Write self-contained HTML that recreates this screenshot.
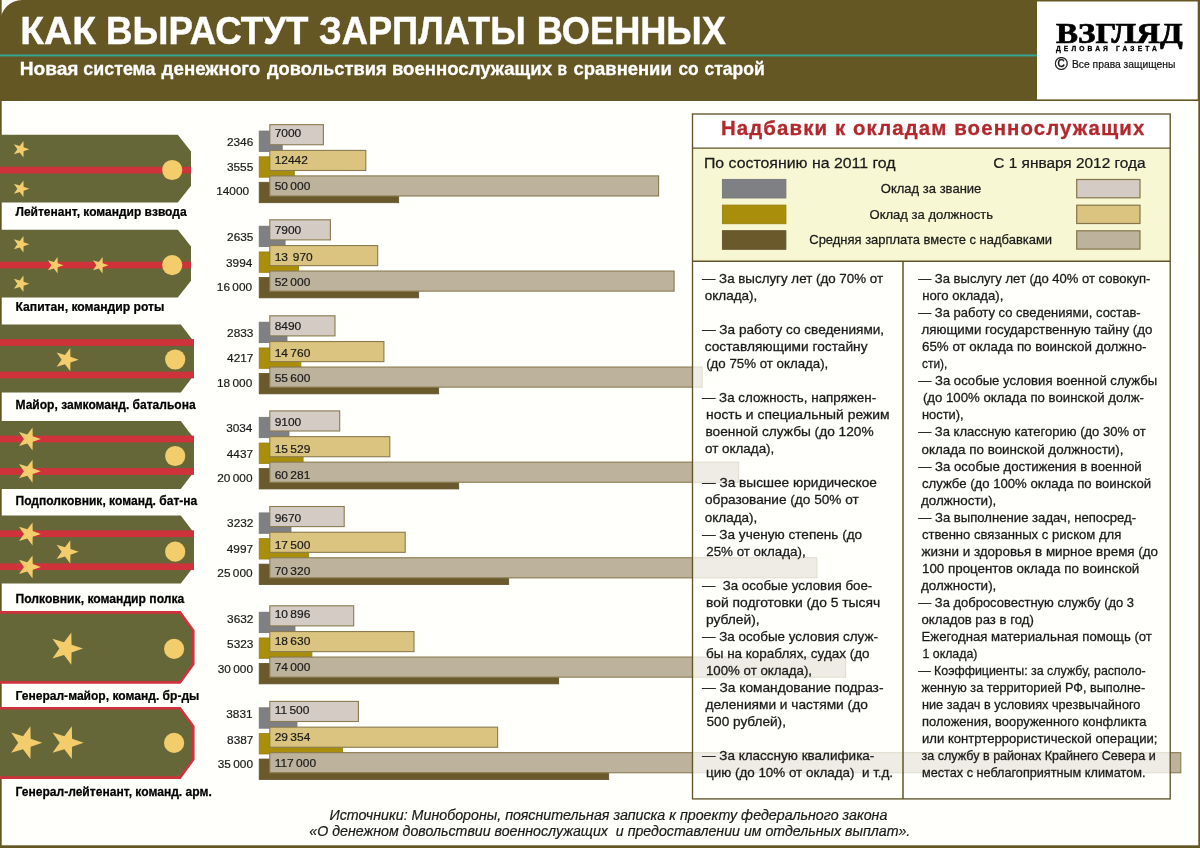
<!DOCTYPE html>
<html lang="ru"><head><meta charset="utf-8"><title>Как вырастут зарплаты военных</title>
<style>

html,body{margin:0;padding:0;}
body{width:1200px;height:848px;overflow:hidden;background:#fffffc;}
#page{position:relative;width:1200px;height:848px;overflow:hidden;background:#fffffc;}
svg{position:absolute;left:0;top:0;display:block;}
.tx text{white-space:pre;}
</style></head><body>
<div id="page">
<svg width="1200" height="848" viewBox="0 0 1200 848">
<rect x="0" y="0" width="1.7" height="848" fill="#645724"/>
<rect x="1198.3" y="0" width="1.7" height="848" fill="#645724"/>
<rect x="0" y="845.3" width="1200" height="2.7" fill="#645724"/>
<path d="M0 100.9 L0 23 A22 23 0 0 1 22 0 L1200 0 L1200 100.9 Z" fill="#645724"/>
<rect x="0" y="54.5" width="1037" height="1.9" fill="#33a698"/>
<rect x="1037" y="1.5" width="160.7" height="97.9" fill="#ffffff"/>
<polygon points="-6.00,134.70 177.80,134.70 191.00,151.50 191.00,185.70 177.80,202.50 -6.00,202.50" fill="#666739"/>
<rect x="0" y="166.75" width="191" height="6.7" fill="#cf323b"/>
<circle cx="172.2" cy="170.00" r="10.1" fill="#f3cc6c"/>
<polygon points="29.40,149.20 23.58,151.22 23.46,157.38 19.74,152.47 13.84,154.25 17.36,149.20 13.84,144.15 19.74,145.93 23.46,141.02 23.58,147.18" fill="#f3cc6c"/>
<polygon points="29.40,188.80 23.58,190.82 23.46,196.98 19.74,192.07 13.84,193.85 17.36,188.80 13.84,183.75 19.74,185.53 23.46,180.62 23.58,186.78" fill="#f3cc6c"/>
<polygon points="-6.00,229.80 177.80,229.80 191.00,246.60 191.00,280.80 177.80,297.60 -6.00,297.60" fill="#666739"/>
<rect x="0" y="261.75" width="191" height="6.7" fill="#cf323b"/>
<circle cx="172.2" cy="265.10" r="10.1" fill="#f3cc6c"/>
<polygon points="29.40,244.20 23.58,246.22 23.46,252.38 19.74,247.47 13.84,249.25 17.36,244.20 13.84,239.15 19.74,240.93 23.46,236.02 23.58,242.18" fill="#f3cc6c"/>
<polygon points="29.40,283.70 23.58,285.72 23.46,291.88 19.74,286.97 13.84,288.75 17.36,283.70 13.84,278.65 19.74,280.43 23.46,275.52 23.58,281.68" fill="#f3cc6c"/>
<polygon points="63.50,265.30 57.68,267.32 57.56,273.48 53.84,268.57 47.94,270.35 51.46,265.30 47.94,260.25 53.84,262.03 57.56,257.12 57.68,263.28" fill="#f3cc6c"/>
<polygon points="108.50,265.30 102.68,267.32 102.56,273.48 98.84,268.57 92.94,270.35 96.46,265.30 92.94,260.25 98.84,262.03 102.56,257.12 102.68,263.28" fill="#f3cc6c"/>
<polygon points="-6.00,324.40 180.80,324.40 194.00,341.70 194.00,375.10 180.80,392.40 -6.00,392.40" fill="#666739"/>
<rect x="0" y="339.15" width="194" height="6.7" fill="#cf323b"/>
<rect x="0" y="371.65" width="194" height="6.7" fill="#cf323b"/>
<circle cx="175.2" cy="359.50" r="10.1" fill="#f3cc6c"/>
<polygon points="78.70,359.70 70.45,362.57 70.27,371.30 64.99,364.34 56.63,366.87 61.62,359.70 56.63,352.53 64.99,355.06 70.27,348.10 70.45,356.83" fill="#f3cc6c"/>
<polygon points="-6.00,421.10 180.80,421.10 194.00,438.40 194.00,471.70 180.80,489.00 -6.00,489.00" fill="#666739"/>
<rect x="0" y="435.65" width="194" height="6.7" fill="#cf323b"/>
<rect x="0" y="468.15" width="194" height="6.7" fill="#cf323b"/>
<circle cx="175.2" cy="456.00" r="10.1" fill="#f3cc6c"/>
<polygon points="40.90,439.00 32.72,441.84 32.54,450.51 27.30,443.60 19.01,446.11 23.96,439.00 19.01,431.89 27.30,434.40 32.54,427.49 32.72,436.16" fill="#f3cc6c"/>
<polygon points="40.90,471.20 32.72,474.04 32.54,482.71 27.30,475.80 19.01,478.31 23.96,471.20 19.01,464.09 27.30,466.60 32.54,459.69 32.72,468.36" fill="#f3cc6c"/>
<polygon points="-6.00,515.60 180.80,515.60 194.00,532.90 194.00,566.20 180.80,583.50 -6.00,583.50" fill="#666739"/>
<rect x="0" y="530.35" width="194" height="6.7" fill="#cf323b"/>
<rect x="0" y="563.35" width="194" height="6.7" fill="#cf323b"/>
<circle cx="175.2" cy="551.70" r="10.1" fill="#f3cc6c"/>
<polygon points="40.90,533.90 32.72,536.74 32.54,545.41 27.30,538.50 19.01,541.01 23.96,533.90 19.01,526.79 27.30,529.30 32.54,522.39 32.72,531.06" fill="#f3cc6c"/>
<polygon points="40.90,566.90 32.72,569.74 32.54,578.41 27.30,571.50 19.01,574.01 23.96,566.90 19.01,559.79 27.30,562.30 32.54,555.39 32.72,564.06" fill="#f3cc6c"/>
<polygon points="78.70,551.80 70.45,554.67 70.27,563.40 64.99,556.44 56.63,558.97 61.62,551.80 56.63,544.63 64.99,547.16 70.27,540.20 70.45,548.93" fill="#f3cc6c"/>
<polygon points="-6.00,612.40 180.00,612.40 193.30,630.60 193.30,664.20 180.00,682.40 -6.00,682.40" fill="#666739" stroke="#cf323b" stroke-width="2.6" stroke-linejoin="miter"/>
<circle cx="174.1" cy="648.80" r="10.1" fill="#f3cc6c"/>
<polygon points="83.00,648.60 71.57,652.57 71.32,664.67 64.01,655.03 52.43,658.53 59.34,648.60 52.43,638.67 64.01,642.17 71.32,632.53 71.57,644.63" fill="#f3cc6c"/>
<polygon points="-6.00,708.20 180.00,708.20 193.30,726.40 193.30,759.40 180.00,777.60 -6.00,777.60" fill="#666739" stroke="#cf323b" stroke-width="2.6" stroke-linejoin="miter"/>
<circle cx="174.1" cy="742.90" r="10.1" fill="#f3cc6c"/>
<polygon points="42.30,742.70 30.67,746.74 30.42,759.06 22.97,749.24 11.18,752.81 18.22,742.70 11.18,732.59 22.97,736.16 30.42,726.34 30.67,738.66" fill="#f3cc6c"/>
<polygon points="83.70,742.70 72.07,746.74 71.82,759.06 64.37,749.24 52.58,752.81 59.62,742.70 52.58,732.59 64.37,736.16 71.82,726.34 72.07,738.66" fill="#f3cc6c"/>
<rect x="259.2" y="131.05" width="23.0" height="20.4" fill="#7f8084" stroke="#75767a" stroke-width="0.8"/>
<rect x="259.2" y="156.80" width="35.1" height="20.4" fill="#a98e0b" stroke="#96800f" stroke-width="0.8"/>
<rect x="259.2" y="182.30" width="139.5" height="20.4" fill="#6a5a2b" stroke="#62532a" stroke-width="0.8"/>
<rect x="269.8" y="124.65" width="53.6" height="20.1" fill="#d4cbc4" stroke="#8a7b50" stroke-width="1.1"/>
<rect x="269.8" y="150.40" width="96.0" height="20.1" fill="#dbc47f" stroke="#8a7b50" stroke-width="1.1"/>
<rect x="269.8" y="175.90" width="388.8" height="20.1" fill="#bdb29b" stroke="#8a7b50" stroke-width="1.1"/>
<rect x="259.2" y="226.20" width="25.9" height="20.4" fill="#7f8084" stroke="#75767a" stroke-width="0.8"/>
<rect x="259.2" y="251.95" width="39.4" height="20.4" fill="#a98e0b" stroke="#96800f" stroke-width="0.8"/>
<rect x="259.2" y="277.45" width="159.5" height="20.4" fill="#6a5a2b" stroke="#62532a" stroke-width="0.8"/>
<rect x="269.8" y="219.80" width="60.6" height="20.1" fill="#d4cbc4" stroke="#8a7b50" stroke-width="1.1"/>
<rect x="269.8" y="245.55" width="107.9" height="20.1" fill="#dbc47f" stroke="#8a7b50" stroke-width="1.1"/>
<rect x="269.8" y="271.05" width="404.3" height="20.1" fill="#bdb29b" stroke="#8a7b50" stroke-width="1.1"/>
<rect x="259.2" y="322.20" width="27.8" height="20.4" fill="#7f8084" stroke="#75767a" stroke-width="0.8"/>
<rect x="259.2" y="347.95" width="41.7" height="20.4" fill="#a98e0b" stroke="#96800f" stroke-width="0.8"/>
<rect x="259.2" y="373.45" width="179.5" height="20.4" fill="#6a5a2b" stroke="#62532a" stroke-width="0.8"/>
<rect x="269.8" y="315.80" width="65.2" height="20.1" fill="#d4cbc4" stroke="#8a7b50" stroke-width="1.1"/>
<rect x="269.8" y="341.55" width="114.1" height="20.1" fill="#dbc47f" stroke="#8a7b50" stroke-width="1.1"/>
<rect x="269.8" y="367.05" width="432.4" height="20.1" fill="#bdb29b" stroke="#8a7b50" stroke-width="1.1"/>
<rect x="259.2" y="417.30" width="29.8" height="20.4" fill="#7f8084" stroke="#75767a" stroke-width="0.8"/>
<rect x="259.2" y="443.05" width="43.9" height="20.4" fill="#a98e0b" stroke="#96800f" stroke-width="0.8"/>
<rect x="259.2" y="468.55" width="199.5" height="20.4" fill="#6a5a2b" stroke="#62532a" stroke-width="0.8"/>
<rect x="269.8" y="410.90" width="69.9" height="20.1" fill="#d4cbc4" stroke="#8a7b50" stroke-width="1.1"/>
<rect x="269.8" y="436.65" width="120.0" height="20.1" fill="#dbc47f" stroke="#8a7b50" stroke-width="1.1"/>
<rect x="269.8" y="462.15" width="468.9" height="20.1" fill="#bdb29b" stroke="#8a7b50" stroke-width="1.1"/>
<rect x="259.2" y="512.90" width="31.8" height="20.4" fill="#7f8084" stroke="#75767a" stroke-width="0.8"/>
<rect x="259.2" y="538.65" width="49.5" height="20.4" fill="#a98e0b" stroke="#96800f" stroke-width="0.8"/>
<rect x="259.2" y="564.15" width="249.5" height="20.4" fill="#6a5a2b" stroke="#62532a" stroke-width="0.8"/>
<rect x="269.8" y="506.50" width="74.4" height="20.1" fill="#d4cbc4" stroke="#8a7b50" stroke-width="1.1"/>
<rect x="269.8" y="532.25" width="135.4" height="20.1" fill="#dbc47f" stroke="#8a7b50" stroke-width="1.1"/>
<rect x="269.8" y="557.75" width="547.1" height="20.1" fill="#bdb29b" stroke="#8a7b50" stroke-width="1.1"/>
<rect x="259.2" y="612.20" width="35.8" height="20.4" fill="#7f8084" stroke="#75767a" stroke-width="0.8"/>
<rect x="259.2" y="637.95" width="52.7" height="20.4" fill="#a98e0b" stroke="#96800f" stroke-width="0.8"/>
<rect x="259.2" y="663.45" width="299.5" height="20.4" fill="#6a5a2b" stroke="#62532a" stroke-width="0.8"/>
<rect x="269.8" y="605.80" width="83.9" height="20.1" fill="#d4cbc4" stroke="#8a7b50" stroke-width="1.1"/>
<rect x="269.8" y="631.55" width="144.2" height="20.1" fill="#dbc47f" stroke="#8a7b50" stroke-width="1.1"/>
<rect x="269.8" y="657.05" width="575.8" height="20.1" fill="#bdb29b" stroke="#8a7b50" stroke-width="1.1"/>
<rect x="259.2" y="707.80" width="37.8" height="20.4" fill="#7f8084" stroke="#75767a" stroke-width="0.8"/>
<rect x="259.2" y="733.55" width="83.4" height="20.4" fill="#a98e0b" stroke="#96800f" stroke-width="0.8"/>
<rect x="259.2" y="759.05" width="349.5" height="20.4" fill="#6a5a2b" stroke="#62532a" stroke-width="0.8"/>
<rect x="269.8" y="701.40" width="88.6" height="20.1" fill="#d4cbc4" stroke="#8a7b50" stroke-width="1.1"/>
<rect x="269.8" y="727.15" width="227.8" height="20.1" fill="#dbc47f" stroke="#8a7b50" stroke-width="1.1"/>
<rect x="269.8" y="752.65" width="911.0" height="20.1" fill="#bdb29b" stroke="#8a7b50" stroke-width="1.1"/>
<rect x="692.5" y="114.0" width="477.70000000000005" height="34.19999999999999" fill="#ffffff"/>
<rect x="692.5" y="148.2" width="477.70000000000005" height="113.10000000000002" fill="#f7f7d3"/>
<rect x="692.5" y="261.3" width="477.70000000000005" height="537.5999999999999" fill="#fffffc" fill-opacity="0.75"/>
<rect x="692.5" y="114.0" width="477.70000000000005" height="684.9" fill="none" stroke="#5f5529" stroke-width="1.35"/>
<line x1="692.5" y1="148.2" x2="1170.2" y2="148.2" stroke="#5f5529" stroke-width="1.3"/>
<line x1="692.5" y1="261.3" x2="1170.2" y2="261.3" stroke="#5f5529" stroke-width="1.4"/>
<line x1="903.0" y1="261.3" x2="903.0" y2="798.9" stroke="#5f5529" stroke-width="1.5"/>
<rect x="722.4" y="179.4" width="63.5" height="18.6" fill="#7f8084" stroke="#75767a" stroke-width="0.9"/>
<rect x="1076.7" y="179.5" width="63.3" height="18.3" fill="#d4cbc4" stroke="#85764a" stroke-width="1.2"/>
<rect x="722.4" y="205.1" width="63.5" height="18.6" fill="#a98e0b" stroke="#96800f" stroke-width="0.9"/>
<rect x="1076.7" y="205.2" width="63.3" height="18.3" fill="#dbc47f" stroke="#85764a" stroke-width="1.2"/>
<rect x="722.4" y="230.70000000000002" width="63.5" height="18.6" fill="#6a5a2b" stroke="#62532a" stroke-width="0.9"/>
<rect x="1076.7" y="230.8" width="63.3" height="18.3" fill="#bdb29b" stroke="#85764a" stroke-width="1.2"/>
<g class="tx" xml:space="preserve" font-family="'Liberation Sans', sans-serif" fill="#1a1a1a">
<text font-size="11.6" stroke="#1a1a1a" stroke-width="0.2" style="word-spacing:-0.9px;" transform="translate(274.70 137.35) scale(1.0300 1)">7000</text>
<text font-size="11.5" stroke="#1a1a1a" stroke-width="0.2" style="word-spacing:-0.9px;" transform="translate(226.96 145.95) scale(1.0300 1)">2346</text>
<text font-size="11.6" stroke="#1a1a1a" stroke-width="0.2" style="word-spacing:-0.9px;" transform="translate(274.70 164.05) scale(1.0300 1)">12442</text>
<text font-size="11.5" stroke="#1a1a1a" stroke-width="0.2" style="word-spacing:-0.9px;" transform="translate(226.96 170.95) scale(1.0300 1)">3555</text>
<text font-size="11.6" stroke="#1a1a1a" stroke-width="0.2" style="word-spacing:-0.9px;" transform="translate(274.70 190.05) scale(1.0300 1)">50 000</text>
<text font-size="11.5" stroke="#1a1a1a" stroke-width="0.2" style="word-spacing:-0.9px;" transform="translate(216.17 194.95) scale(1.0300 1)">14000</text>
<text font-size="11.6" stroke="#1a1a1a" stroke-width="0.2" style="word-spacing:-0.9px;" transform="translate(274.70 233.60) scale(1.0300 1)">7900</text>
<text font-size="11.5" stroke="#1a1a1a" stroke-width="0.2" style="word-spacing:-0.9px;" transform="translate(227.06 240.70) scale(1.0300 1)">2635</text>
<text font-size="11.6" stroke="#1a1a1a" stroke-width="0.2" style="word-spacing:-0.9px;" transform="translate(274.70 260.70) scale(1.0300 1)">13  970</text>
<text font-size="11.5" stroke="#1a1a1a" stroke-width="0.2" style="word-spacing:-0.9px;" transform="translate(226.03 266.70) scale(1.0300 1)">3994</text>
<text font-size="11.6" stroke="#1a1a1a" stroke-width="0.2" style="word-spacing:-0.9px;" transform="translate(274.70 285.80) scale(1.0300 1)">52 000</text>
<text font-size="11.5" stroke="#1a1a1a" stroke-width="0.2" style="word-spacing:-0.9px;" transform="translate(216.81 290.80) scale(1.0300 1)">16 000</text>
<text font-size="11.6" stroke="#1a1a1a" stroke-width="0.2" style="word-spacing:-0.9px;" transform="translate(274.70 329.80) scale(1.0300 1)">8490</text>
<text font-size="11.5" stroke="#1a1a1a" stroke-width="0.2" style="word-spacing:-0.9px;" transform="translate(227.06 336.50) scale(1.0300 1)">2833</text>
<text font-size="11.6" stroke="#1a1a1a" stroke-width="0.2" style="word-spacing:-0.9px;" transform="translate(274.70 356.70) scale(1.0300 1)">14 760</text>
<text font-size="11.5" stroke="#1a1a1a" stroke-width="0.2" style="word-spacing:-0.9px;" transform="translate(227.06 362.20) scale(1.0300 1)">4217</text>
<text font-size="11.6" stroke="#1a1a1a" stroke-width="0.2" style="word-spacing:-0.9px;" transform="translate(274.70 382.10) scale(1.0300 1)">55 600</text>
<text font-size="11.5" stroke="#1a1a1a" stroke-width="0.2" style="word-spacing:-0.9px;" transform="translate(217.01 386.60) scale(1.0300 1)">18 000</text>
<text font-size="11.6" stroke="#1a1a1a" stroke-width="0.2" style="word-spacing:-0.9px;" transform="translate(274.70 426.00) scale(1.0300 1)">9100</text>
<text font-size="11.5" stroke="#1a1a1a" stroke-width="0.2" style="word-spacing:-0.9px;" transform="translate(226.13 431.80) scale(1.0300 1)">3034</text>
<text font-size="11.6" stroke="#1a1a1a" stroke-width="0.2" style="word-spacing:-0.9px;" transform="translate(274.70 453.00) scale(1.0300 1)">15 529</text>
<text font-size="11.5" stroke="#1a1a1a" stroke-width="0.2" style="word-spacing:-0.9px;" transform="translate(226.76 457.80) scale(1.0300 1)">4437</text>
<text font-size="11.6" stroke="#1a1a1a" stroke-width="0.2" style="word-spacing:-0.9px;" transform="translate(274.70 478.50) scale(1.0300 1)">60 281</text>
<text font-size="11.5" stroke="#1a1a1a" stroke-width="0.2" style="word-spacing:-0.9px;" transform="translate(217.21 481.90) scale(1.0300 1)">20 000</text>
<text font-size="11.6" stroke="#1a1a1a" stroke-width="0.2" style="word-spacing:-0.9px;" transform="translate(274.70 521.90) scale(1.0300 1)">9670</text>
<text font-size="11.5" stroke="#1a1a1a" stroke-width="0.2" style="word-spacing:-0.9px;" transform="translate(227.06 527.20) scale(1.0300 1)">3232</text>
<text font-size="11.6" stroke="#1a1a1a" stroke-width="0.2" style="word-spacing:-0.9px;" transform="translate(274.70 548.90) scale(1.0300 1)">17 500</text>
<text font-size="11.5" stroke="#1a1a1a" stroke-width="0.2" style="word-spacing:-0.9px;" transform="translate(226.76 553.00) scale(1.0300 1)">4997</text>
<text font-size="11.6" stroke="#1a1a1a" stroke-width="0.2" style="word-spacing:-0.9px;" transform="translate(274.70 574.60) scale(1.0300 1)">70 320</text>
<text font-size="11.5" stroke="#1a1a1a" stroke-width="0.2" style="word-spacing:-0.9px;" transform="translate(217.31 577.40) scale(1.0300 1)">25 000</text>
<text font-size="11.6" stroke="#1a1a1a" stroke-width="0.2" style="word-spacing:-0.9px;" transform="translate(274.70 618.00) scale(1.0300 1)">10 896</text>
<text font-size="11.5" stroke="#1a1a1a" stroke-width="0.2" style="word-spacing:-0.9px;" transform="translate(227.06 622.80) scale(1.0300 1)">3632</text>
<text font-size="11.6" stroke="#1a1a1a" stroke-width="0.2" style="word-spacing:-0.9px;" transform="translate(274.70 644.80) scale(1.0300 1)">18 630</text>
<text font-size="11.5" stroke="#1a1a1a" stroke-width="0.2" style="word-spacing:-0.9px;" transform="translate(227.06 648.20) scale(1.0300 1)">5323</text>
<text font-size="11.6" stroke="#1a1a1a" stroke-width="0.2" style="word-spacing:-0.9px;" transform="translate(274.70 670.80) scale(1.0300 1)">74 000</text>
<text font-size="11.5" stroke="#1a1a1a" stroke-width="0.2" style="word-spacing:-0.9px;" transform="translate(217.71 672.60) scale(1.0300 1)">30 000</text>
<text font-size="11.6" stroke="#1a1a1a" stroke-width="0.2" style="word-spacing:-0.9px;" transform="translate(274.70 714.30) scale(1.0300 1)">11 500</text>
<text font-size="11.5" stroke="#1a1a1a" stroke-width="0.2" style="word-spacing:-0.9px;" transform="translate(226.26 718.40) scale(1.0300 1)">3831</text>
<text font-size="11.6" stroke="#1a1a1a" stroke-width="0.2" style="word-spacing:-0.9px;" transform="translate(274.70 741.20) scale(1.0300 1)">29 354</text>
<text font-size="11.5" stroke="#1a1a1a" stroke-width="0.2" style="word-spacing:-0.9px;" transform="translate(227.06 743.80) scale(1.0300 1)">8387</text>
<text font-size="11.6" stroke="#1a1a1a" stroke-width="0.2" style="word-spacing:-0.9px;" transform="translate(274.70 766.70) scale(1.0300 1)">117 000</text>
<text font-size="11.5" stroke="#1a1a1a" stroke-width="0.2" style="word-spacing:-0.9px;" transform="translate(217.71 767.70) scale(1.0300 1)">35 000</text>
<text font-size="39.1" font-weight="bold" fill="#ffffff" stroke="#ffffff" stroke-width="0.45" transform="translate(20.31 43.50) scale(0.9950 1)">КАК</text>
<text font-size="39.1" font-weight="bold" fill="#ffffff" stroke="#ffffff" stroke-width="0.45" transform="translate(106.12 43.50) scale(0.9379 1)">ВЫРАСТУТ</text>
<text font-size="39.1" font-weight="bold" fill="#ffffff" stroke="#ffffff" stroke-width="0.45" transform="translate(319.00 43.50) scale(0.9278 1)">ЗАРПЛАТЫ</text>
<text font-size="39.1" font-weight="bold" fill="#ffffff" stroke="#ffffff" stroke-width="0.45" transform="translate(536.65 43.50) scale(0.9254 1)">ВОЕННЫХ</text>
<text font-size="17.5" font-weight="bold" fill="#ffffff" stroke="#ffffff" stroke-width="0.3" transform="translate(19.71 75.20) scale(1.0933 1)">Новая</text>
<text font-size="17.5" font-weight="bold" fill="#ffffff" stroke="#ffffff" stroke-width="0.3" transform="translate(83.30 75.20) scale(1.0210 1)">система</text>
<text font-size="17.5" font-weight="bold" fill="#ffffff" stroke="#ffffff" stroke-width="0.3" transform="translate(161.60 75.20) scale(1.0694 1)">денежного</text>
<text font-size="17.5" font-weight="bold" fill="#ffffff" stroke="#ffffff" stroke-width="0.3" transform="translate(267.00 75.20) scale(1.0461 1)">довольствия</text>
<text font-size="17.5" font-weight="bold" fill="#ffffff" stroke="#ffffff" stroke-width="0.3" transform="translate(391.94 75.20) scale(1.0627 1)">военнослужащих</text>
<text font-size="17.5" font-weight="bold" fill="#ffffff" stroke="#ffffff" stroke-width="0.3" transform="translate(557.51 75.20) scale(0.8900 1)">в</text>
<text font-size="17.5" font-weight="bold" fill="#ffffff" stroke="#ffffff" stroke-width="0.3" transform="translate(573.60 75.20) scale(1.0525 1)">сравнении</text>
<text font-size="17.5" font-weight="bold" fill="#ffffff" stroke="#ffffff" stroke-width="0.3" transform="translate(678.40 75.20) scale(0.9933 1)">со</text>
<text font-size="17.5" font-weight="bold" fill="#ffffff" stroke="#ffffff" stroke-width="0.3" transform="translate(704.40 75.20) scale(1.0031 1)">старой</text>
<text font-size="29.5" font-weight="bold" fill="#000000" font-family="'Liberation Serif', serif" stroke="#000000" stroke-width="0.7" transform="translate(1056.00 42.50) scale(1.1210 1)">ВЗГЛЯД</text>
<text font-size="6.7" font-weight="bold" fill="#000000" stroke="#000000" stroke-width="0.3" style="letter-spacing:3.106px;" x="1056.00" y="51.40">ДЕЛОВАЯ ГАЗЕТА</text>
<text font-size="17.8" fill="#111111" stroke="#111111" stroke-width="0.35" x="1054.80" y="70.10">©</text>
<text font-size="10.4" fill="#111111" stroke="#111111" stroke-width="0.2" transform="translate(1072.00 67.80) scale(0.9914 1)">Все права защищены</text>
<text font-size="12.7" font-weight="bold" fill="#000000" stroke="#000000" stroke-width="0.25" transform="translate(15.50 215.60) scale(0.9454 1)">Лейтенант, командир взвода</text>
<text font-size="12.7" font-weight="bold" fill="#000000" stroke="#000000" stroke-width="0.25" transform="translate(15.50 311.40) scale(0.9571 1)">Капитан, командир роты</text>
<text font-size="12.7" font-weight="bold" fill="#000000" stroke="#000000" stroke-width="0.25" transform="translate(15.50 408.90) scale(0.9484 1)">Майор, замкоманд. батальона</text>
<text font-size="12.7" font-weight="bold" fill="#000000" stroke="#000000" stroke-width="0.25" transform="translate(15.50 505.30) scale(0.9500 1)">Подполковник, команд. бат-на</text>
<text font-size="12.7" font-weight="bold" fill="#000000" stroke="#000000" stroke-width="0.25" transform="translate(15.50 602.70) scale(0.9564 1)">Полковник, командир полка</text>
<text font-size="12.7" font-weight="bold" fill="#000000" stroke="#000000" stroke-width="0.25" transform="translate(15.50 699.50) scale(0.9496 1)">Генерал-майор, команд. бр-ды</text>
<text font-size="12.7" font-weight="bold" fill="#000000" stroke="#000000" stroke-width="0.25" transform="translate(15.50 795.60) scale(0.9507 1)">Генерал-лейтенант, команд. арм.</text>
<text font-size="14" font-style="italic" stroke="#1a1a1a" stroke-width="0.2" transform="translate(329.50 819.80) scale(1.0192 1)">Источники: Минобороны, пояснительная записка к проекту федерального закона</text>
<text font-size="14" font-style="italic" stroke="#1a1a1a" stroke-width="0.2" transform="translate(309.30 836.30) scale(1.0147 1)">«О денежном довольствии военнослужащих  и предоставлении им отдельных выплат».</text>
<text font-size="20.4" font-weight="bold" fill="#b3282d" stroke="#b3282d" stroke-width="0.3" style="letter-spacing:1.117px;" x="721.00" y="135.30">Надбавки к окладам военнослужащих</text>
<text font-size="15.3" stroke="#1a1a1a" stroke-width="0.25" transform="translate(703.96 168.40) scale(1.0379 1)">По состоянию на 2011 год</text>
<text font-size="15.3" stroke="#1a1a1a" stroke-width="0.25" transform="translate(993.30 168.20) scale(1.0077 1)">С 1 января 2012 года</text>
<text font-size="12.9" stroke="#1a1a1a" stroke-width="0.25" transform="translate(880.80 193.20) scale(1.0104 1)">Оклад за звание</text>
<text font-size="12.9" stroke="#1a1a1a" stroke-width="0.25" transform="translate(869.50 218.50) scale(1.0110 1)">Оклад за должность</text>
<text font-size="12.9" stroke="#1a1a1a" stroke-width="0.25" transform="translate(809.30 244.30) scale(1.0059 1)">Средняя зарплата вместе с надбавками</text>
<text font-size="13.1" stroke="#1a1a1a" stroke-width="0.28" transform="translate(702.00 282.80) scale(1.0208 1)">— За выслугу лет (до 70% от</text>
<text font-size="13.1" stroke="#1a1a1a" stroke-width="0.28" transform="translate(704.70 299.85) scale(1.0305 1)">оклада),</text>
<text font-size="13.1" stroke="#1a1a1a" stroke-width="0.28" transform="translate(702.00 333.95) scale(1.0384 1)">— За работу со сведениями,</text>
<text font-size="13.1" stroke="#1a1a1a" stroke-width="0.28" transform="translate(704.70 351.00) scale(1.0475 1)">составляющими гостайну</text>
<text font-size="13.1" stroke="#1a1a1a" stroke-width="0.28" transform="translate(706.20 368.05) scale(1.0137 1)">(до 75% от оклада),</text>
<text font-size="13.1" stroke="#1a1a1a" stroke-width="0.28" transform="translate(702.00 402.15) scale(1.0221 1)">— За сложность, напряжен-</text>
<text font-size="13.1" stroke="#1a1a1a" stroke-width="0.28" transform="translate(706.00 419.20) scale(1.0611 1)">ность и специальный режим</text>
<text font-size="13.1" stroke="#1a1a1a" stroke-width="0.28" transform="translate(705.50 436.25) scale(1.0455 1)">военной службы (до 120%</text>
<text font-size="13.1" stroke="#1a1a1a" stroke-width="0.28" transform="translate(705.00 453.30) scale(1.0255 1)">от оклада),</text>
<text font-size="13.1" stroke="#1a1a1a" stroke-width="0.28" transform="translate(702.00 487.40) scale(1.0439 1)">— За высшее юридическое</text>
<text font-size="13.1" stroke="#1a1a1a" stroke-width="0.28" transform="translate(705.00 504.45) scale(1.0423 1)">образование (до 50% от</text>
<text font-size="13.1" stroke="#1a1a1a" stroke-width="0.28" transform="translate(704.70 521.50) scale(1.0305 1)">оклада),</text>
<text font-size="13.1" stroke="#1a1a1a" stroke-width="0.28" transform="translate(702.00 538.55) scale(1.0377 1)">— За ученую степень (до</text>
<text font-size="13.1" stroke="#1a1a1a" stroke-width="0.28" transform="translate(706.20 555.60) scale(1.0203 1)">25% от оклада),</text>
<text font-size="13.1" stroke="#1a1a1a" stroke-width="0.28" transform="translate(702.00 589.70) scale(1.0163 1)">—  За особые условия бое-</text>
<text font-size="13.1" stroke="#1a1a1a" stroke-width="0.28" transform="translate(706.00 606.75) scale(1.0585 1)">вой подготовки (до 5 тысяч</text>
<text font-size="13.1" stroke="#1a1a1a" stroke-width="0.28" transform="translate(706.00 623.80) scale(1.0529 1)">рублей),</text>
<text font-size="13.1" stroke="#1a1a1a" stroke-width="0.28" transform="translate(702.00 640.85) scale(1.0251 1)">— За особые условия служ-</text>
<text font-size="13.1" stroke="#1a1a1a" stroke-width="0.28" transform="translate(706.00 657.90) scale(1.0299 1)">бы на кораблях, судах (до</text>
<text font-size="13.1" stroke="#1a1a1a" stroke-width="0.28" transform="translate(705.99 674.95) scale(1.0124 1)">100% от оклада),</text>
<text font-size="13.1" stroke="#1a1a1a" stroke-width="0.28" transform="translate(702.00 692.00) scale(1.0483 1)">— За командование подраз-</text>
<text font-size="13.1" stroke="#1a1a1a" stroke-width="0.28" transform="translate(705.50 709.05) scale(1.0476 1)">делениями и частями (до</text>
<text font-size="13.1" stroke="#1a1a1a" stroke-width="0.28" transform="translate(706.50 726.10) scale(1.0393 1)">500 рублей),</text>
<text font-size="13.1" stroke="#1a1a1a" stroke-width="0.28" transform="translate(702.00 760.20) scale(1.0309 1)">— За классную квалифика-</text>
<text font-size="13.1" stroke="#1a1a1a" stroke-width="0.28" transform="translate(706.00 777.25) scale(1.0237 1)">цию (до 10% от оклада)  и т.д.</text>
<text font-size="13.1" stroke="#1a1a1a" stroke-width="0.28" transform="translate(918.20 283.00) scale(0.9965 1)">— За выслугу лет (до 40% от совокуп-</text>
<text font-size="13.1" stroke="#1a1a1a" stroke-width="0.28" transform="translate(922.20 300.05) scale(1.0027 1)">ного оклада),</text>
<text font-size="13.1" stroke="#1a1a1a" stroke-width="0.28" transform="translate(918.20 317.10) scale(0.9930 1)">— За работу со сведениями, состав-</text>
<text font-size="13.1" stroke="#1a1a1a" stroke-width="0.28" transform="translate(921.50 334.15) scale(1.0163 1)">ляющими государственную тайну (до</text>
<text font-size="13.1" stroke="#1a1a1a" stroke-width="0.28" transform="translate(922.00 351.20) scale(1.0193 1)">65% от оклада по воинской должно-</text>
<text font-size="13.1" stroke="#1a1a1a" stroke-width="0.28" transform="translate(922.00 368.25) scale(0.9075 1)">сти),</text>
<text font-size="13.1" stroke="#1a1a1a" stroke-width="0.28" transform="translate(918.20 385.30) scale(1.0020 1)">— За особые условия военной службы</text>
<text font-size="13.1" stroke="#1a1a1a" stroke-width="0.28" transform="translate(922.90 402.35) scale(1.0086 1)">(до 100% оклада по воинской долж-</text>
<text font-size="13.1" stroke="#1a1a1a" stroke-width="0.28" transform="translate(922.00 419.40) scale(0.9825 1)">ности),</text>
<text font-size="13.1" stroke="#1a1a1a" stroke-width="0.28" transform="translate(918.20 436.45) scale(0.9960 1)">— За классную категорию (до 30% от</text>
<text font-size="13.1" stroke="#1a1a1a" stroke-width="0.28" transform="translate(921.50 453.50) scale(1.0233 1)">оклада по воинской должности),</text>
<text font-size="13.1" stroke="#1a1a1a" stroke-width="0.28" transform="translate(918.20 470.55) scale(1.0083 1)">— За особые достижения в военной</text>
<text font-size="13.1" stroke="#1a1a1a" stroke-width="0.28" transform="translate(922.00 487.60) scale(1.0031 1)">службе (до 100% оклада по воинской</text>
<text font-size="13.1" stroke="#1a1a1a" stroke-width="0.28" transform="translate(921.00 504.65) scale(1.0266 1)">должности),</text>
<text font-size="13.1" stroke="#1a1a1a" stroke-width="0.28" transform="translate(918.20 521.70) scale(1.0023 1)">— За выполнение задач, непосред-</text>
<text font-size="13.1" stroke="#1a1a1a" stroke-width="0.28" x="922.00" y="538.75">ственно связанных с риском для</text>
<text font-size="13.1" stroke="#1a1a1a" stroke-width="0.28" transform="translate(921.50 555.80) scale(1.0238 1)">жизни и здоровья в мирное время (до</text>
<text font-size="13.1" stroke="#1a1a1a" stroke-width="0.28" transform="translate(921.98 572.85) scale(1.0212 1)">100 процентов оклада по воинской</text>
<text font-size="13.1" stroke="#1a1a1a" stroke-width="0.28" transform="translate(921.00 589.90) scale(1.0266 1)">должности),</text>
<text font-size="13.1" stroke="#1a1a1a" stroke-width="0.28" transform="translate(918.20 606.95) scale(0.9922 1)">— За добросовестную службу (до 3</text>
<text font-size="13.1" stroke="#1a1a1a" stroke-width="0.28" transform="translate(921.50 624.00) scale(1.0056 1)">окладов раз в год)</text>
<text font-size="13.1" stroke="#1a1a1a" stroke-width="0.28" transform="translate(921.59 641.05) scale(1.0057 1)">Ежегодная материальная помощь (от</text>
<text font-size="13.1" stroke="#1a1a1a" stroke-width="0.28" transform="translate(922.56 658.10) scale(0.9399 1)">1 оклада)</text>
<text font-size="13.1" stroke="#1a1a1a" stroke-width="0.28" transform="translate(918.20 675.15) scale(0.9475 1)">— Коэффициенты: за службу, располо-</text>
<text font-size="13.1" stroke="#1a1a1a" stroke-width="0.28" transform="translate(921.50 692.20) scale(0.9683 1)">женную за территорией РФ, выполне-</text>
<text font-size="13.1" stroke="#1a1a1a" stroke-width="0.28" transform="translate(922.00 709.25) scale(0.9707 1)">ние задач в условиях чрезвычайного</text>
<text font-size="13.1" stroke="#1a1a1a" stroke-width="0.28" transform="translate(922.00 726.30) scale(0.9886 1)">положения, вооруженного конфликта</text>
<text font-size="13.1" stroke="#1a1a1a" stroke-width="0.28" x="922.00" y="743.35">или контртеррористической операции;</text>
<text font-size="13.1" stroke="#1a1a1a" stroke-width="0.28" transform="translate(921.50 760.40) scale(0.9589 1)">за службу в районах Крайнего Севера и</text>
<text font-size="13.1" stroke="#1a1a1a" stroke-width="0.28" transform="translate(922.00 777.45) scale(0.9682 1)">местах с неблагоприятным климатом.</text>
</g>
</svg>
</div>
</body></html>
